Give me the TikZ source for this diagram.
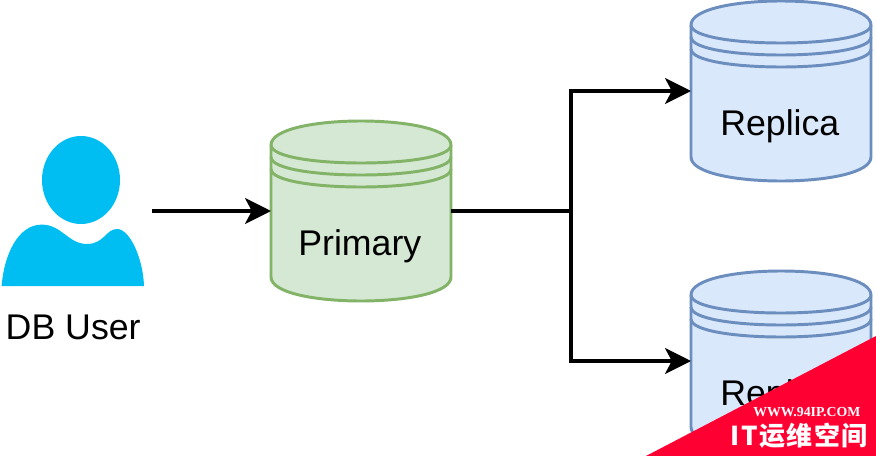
\documentclass[tikz,border=0pt]{standalone}
\usepackage{fontspec}
\setmainfont{Liberation Sans}
\newfontfamily\markserif{Liberation Serif}
\newfontfamily\markcjk[LetterSpace=6]{Noto Sans CJK SC}
\usetikzlibrary{arrows.meta, positioning}
\definecolor{greenfill}{HTML}{D5E8D4}
\definecolor{greenline}{HTML}{82B366}
\definecolor{bluefill}{HTML}{DAE8FC}
\definecolor{blueline}{HTML}{6C8EBF}
\definecolor{usercyan}{HTML}{00BEF2}
\definecolor{markred}{HTML}{FF0033}
\tikzset{
    dbbox/.style={minimum size=4.5cm, inner sep=0, outer sep=0},
    dbtext/.style={font=\fontsize{25.4}{30}\selectfont, inner sep=0},
    primarydb/.style={fill=greenfill, draw=greenline},
    replicadb/.style={fill=bluefill, draw=blueline},
    flow/.style={line width=2.2pt, -{Stealth[length=0.65cm, width=0.65cm, inset=0.17cm]}}
}
\newcommand{\dbdrum}[3]{
    \begin{scope}[shift={(#1.center)}, line width=2.1pt]
        \draw[#2] (-2.25,1.65) .. controls (-2.25,2.45) and (2.25,2.45) .. (2.25,1.65)
            -- (2.25,-1.65) .. controls (2.25,-2.45) and (-2.25,-2.45) .. (-2.25,-1.65) -- cycle;
        \draw[#2, fill=none] (-2.25,1.65) .. controls (-2.25,1.05) and (2.25,1.05) .. (2.25,1.65);
        \draw[#2, fill=none] (-2.25,1.35) .. controls (-2.25,0.75) and (2.25,0.75) .. (2.25,1.35);
        \draw[#2, fill=none] (-2.25,1.05) .. controls (-2.25,0.45) and (2.25,0.45) .. (2.25,1.05);
        \node[dbtext](#1text) at (-0.03,-0.87){#3};
    \end{scope}
}
\begin{document}
\begin{tikzpicture}
    \useasboundingbox (0,0) rectangle (21.9,-11.4);
    \node[minimum width=3.8cm, minimum height=3.75cm, inner sep=0, outer sep=0](user) at (1.9,-5.275){};
    \node[dbbox, on grid, right=7.125cm of user](primary){};
    \node[dbbox, on grid, above right=3cm and 10.5cm of primary](replicaa){};
    \node[dbbox, on grid, below right=3.75cm and 10.5cm of primary](replicab){};
    \coordinate[right=3cm of primary.east](split);
    \begin{scope}[shift={(user.center)}]
        \fill[usercyan] (0.125,0.775) ellipse (0.975cm and 1.1cm);
        \fill[usercyan] (-1.86,-1.875) .. controls (-1.8,-1.1) and (-1.45,-0.34) .. (-0.86,-0.34)
            .. controls (-0.35,-0.34) and (-0.2,-0.825) .. (0.275,-0.825)
            .. controls (0.7,-0.825) and (0.75,-0.45) .. (1.025,-0.45)
            .. controls (1.35,-0.45) and (1.68,-1.2) .. (1.7,-1.875) -- cycle;
    \end{scope}
    \node[dbtext, below=0.72cm of user, xshift=-0.07cm](usertext){DB User};
    \dbdrum{primary}{primarydb}{Primary}
    \dbdrum{replicaa}{replicadb}{Replica}
    \dbdrum{replicab}{replicadb}{Replica}
    \draw[flow] (user.east) -- (primary.west);
    \draw[flow] (primary.east) -- (split) |- (replicaa.west);
    \draw[flow] (primary.east) -- (split) |- (replicab.west);
    \fill[markred] (16.15,-11.4) -- (21.9,-8.4) -- (21.9,-11.4) -- cycle;
    \node[text=white, inner sep=0, font=\markserif\bfseries\fontsize{9.8}{10}\selectfont](markurl) at (20.17,-10.3){WWW.94IP.COM};
    \node[text=white, inner sep=0, font=\markcjk\bfseries\fontsize{18.5}{20}\selectfont](markname) at (19.98,-10.88){IT运维空间};
\end{tikzpicture}
\end{document}
